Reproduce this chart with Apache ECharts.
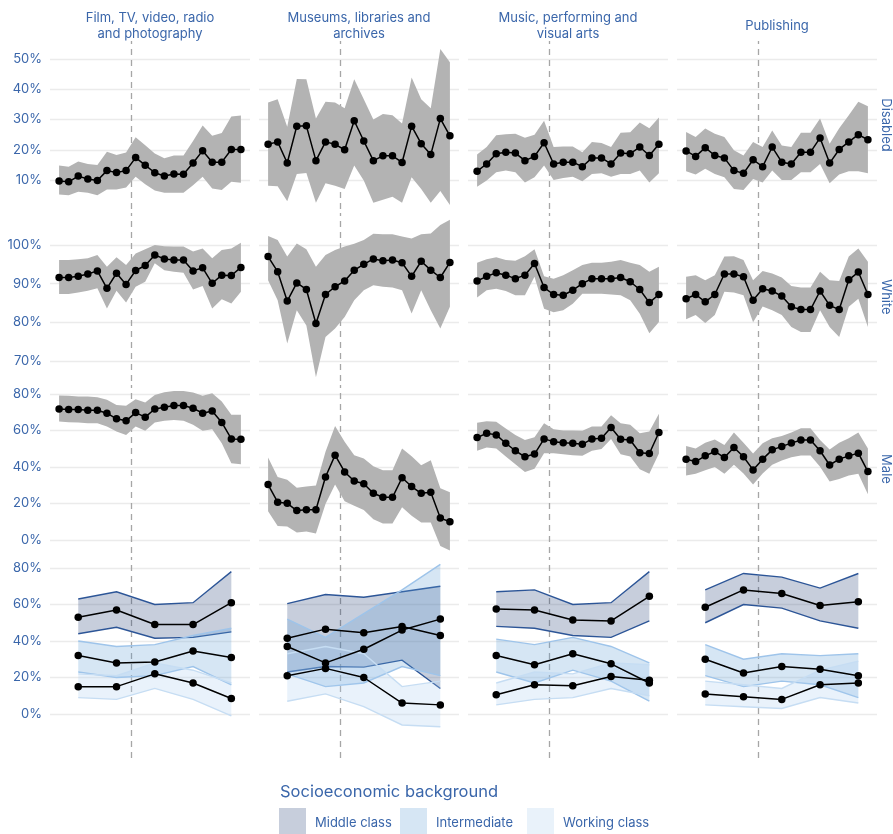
<!DOCTYPE html>
<html><head><meta charset="utf-8">
<script src="https://cdn.jsdelivr.net/npm/echarts@6/dist/echarts.min.js"></script>
<style>html,body{margin:0;padding:0;background:#fff}#c{width:893px;height:834px}</style>
</head><body><div id="c"></div><script>
// ---------- categories ----------
const sectors = ['Film, TV, video, radio\nand photography','Museums, libraries and\narchives','Music, performing and\nvisual arts','Publishing'];
const rowLabels = ['Disabled','White','Male'];
const classes = ['Middle class','Intermediate','Working class'];
const quarterX = [0,1,2,3,4,5,6,7,8,9,10,11,12,13,14,15,16,17,18,19];
const yearX = [2,6,10,14,18];
const breakX = 7.5;
const sesTicks = [0,20,40,60,80];

// ---------- Disabled (%) ----------
const disFilmVal = [9.7,9.4,11.3,10.3,9.8,13.1,12.5,13.1,17.4,14.9,12.4,11.3,12,11.9,15.6,19.7,15.9,15.9,20.1,20.1];
const disFilmHi  = [14.8,14.4,16.1,15.3,15,19.3,18.3,19.1,24.1,21.5,18.8,17.2,18.1,18.1,22.9,28,24.6,25.5,31,31.3];
const disFilmLo  = [5.2,5,6.1,5.8,5,6.9,6.9,7.5,11.1,8.6,6.5,5.8,5.8,5.8,8.3,11.1,7.2,6.7,9.4,9.1];
const disMusVal = [21.8,22.6,15.6,27.8,27.9,16.4,22.6,21.8,20,29.6,22.9,16.4,18,18,15.8,27.8,22,18.4,30.3,24.6];
const disMusHi  = [35.6,36.7,27.6,43.4,43.3,30.3,35.9,35.6,33.7,43.3,36.7,30,31.8,31.4,28.7,43.9,36.7,33.7,53.3,48.9];
const disMusLo  = [8.1,7.9,3,12,12.3,2.5,8.9,8.1,7,14.8,9.8,2.5,3.5,4.5,2.5,10.9,7,2.5,6.4,1.7];
const disMpvVal = [12.9,15.3,18.7,19.2,18.9,16.4,17.8,22.3,15.3,15.9,15.9,14.4,17.3,17.3,15.3,18.9,18.7,20.9,18.1,21.8];
const disMpvHi  = [18.4,20.9,24.8,25.1,25.3,24,25,29.6,20.9,21.1,21.1,19.2,22.6,22.2,20.9,25.6,25.8,29,27.1,30.7];
const disMpvLo  = [7.8,9.8,12.6,13.1,12.6,9.2,10.9,14.8,10,10.7,11.1,9.6,12,12.2,11.1,12,12,13.1,9.2,12.2];
const disPubVal = [19.6,17.8,20.7,18.1,17.3,13.1,12.2,16.7,14.4,20.9,15.9,15.3,19.2,19.2,23.9,15.6,20.1,22.6,25,23.3];
const disPubHi  = [25.9,24.2,27,25.3,24.2,19.8,18.1,22.6,20.9,26.4,21.4,20.9,25.6,25.6,30.3,22,27.1,31.4,35.9,34.4];
const disPubLo  = [12.9,11.8,13.7,12,10.9,7,6.7,10.3,9.2,13.1,10,10,12.6,12.6,15.3,8.9,11.8,12.9,12.9,12.2];

// ---------- White (%) ----------
const whiFilmVal = [91.6,91.6,91.9,92.5,93.3,88.8,92.7,89.8,93.4,94.7,97.4,96.4,96.1,96.1,93.3,94.1,90.1,92.2,92.1,94.2];
const whiFilmHi  = [96.1,96.1,96.3,96.6,97.4,94.4,96.8,94.8,97.8,98.9,100,99.7,99.6,99.6,98.3,99.1,96.6,98.7,99.1,100.6];
const whiFilmLo  = [87.3,87.3,87.7,88.2,88.8,83.6,88.2,85.1,89.2,90.5,95.3,93.5,93.1,92.8,88.5,89.4,83.6,86,84.9,87.9];
const whiMusVal = [97,93.1,85.5,90.2,88.5,79.7,87.2,89.2,90.7,93.5,95,96.4,95.9,96.1,95.4,91.9,95.8,93.5,91.6,95.5];
const whiMusHi  = [102.3,101.3,97,100.4,98.9,94.4,97.4,98.7,99.6,100.3,101.3,102.9,102.8,102.8,102.2,101.7,102.8,103,105.2,106.5];
const whiMusLo  = [90.9,85.7,74.5,83.1,79.2,65.8,76.2,78.4,81.4,85.7,88.3,89.6,89.2,89,88.3,82.3,88.3,83.1,78.4,84];
const whiMpvVal = [90.7,91.9,92.8,92.2,91.3,92.2,95.2,89,87.2,87,88.3,90,91.3,91.3,91.3,91.6,90.5,88.5,85.1,87.2];
const whiMpvHi  = [95.4,96.3,96.8,96.1,95.9,97.1,98.9,91.9,91.3,92.2,93.5,94.8,95.4,95.4,95.7,96.1,95.4,94.8,93.1,94.4];
const whiMpvLo  = [86.4,88.3,88.7,88.1,87,87,91.8,83.5,82.6,83.1,84.8,87.4,87.4,87.4,87.2,87,85.7,82.2,77.2,80.1];
const whiPubVal = [86.1,87.2,85.3,87.2,92.5,92.5,91.8,85.7,88.7,88.1,86.8,84,83.3,83.3,88.1,84.4,83.3,91,93,87.2];
const whiPubHi  = [91.8,92.2,90.9,92.2,97,97.1,96.1,90.9,93.3,92.6,91.6,89.4,89,89,93.1,90.9,90.7,97,99.1,95.7];
const whiPubLo  = [80.8,81.9,79.8,81.9,87.9,87.7,87,80,84.1,83.1,81.9,78.8,77.5,77.5,83.1,78.8,76.2,84,86.1,78.8];

// ---------- Male (%) ----------
const malFilmVal = [71.8,71.5,71.5,71.1,71.1,69.5,66.4,65.3,69.8,67.3,71.8,72.8,73.7,73.7,72.2,69.5,70.7,64.4,55.4,55.2];
const malFilmHi  = [79.2,79,78.6,78.6,78.2,76.8,74,73.5,77.1,75.3,79.5,81,81.7,81.7,80.8,79,80.4,75.9,68.6,68.6];
const malFilmLo  = [64.9,64.5,64.4,64,64,62.2,59.4,57.6,62.2,59.8,64.4,65.4,65.8,65.4,63.1,59.8,60.7,53,42,41.5];
const malMusVal = [30.4,20.7,20.1,16.1,16.6,16.6,34.5,46.5,37.3,32.3,30.8,25.6,23.4,23.4,34.1,29.3,25.6,26.2,12,10];
const malMusHi  = [45.2,34.5,33,28.6,29.3,29.9,48.3,62.5,53.9,46.5,44.6,40.4,38.2,38.2,50.2,45.9,41,43.7,28.4,26.2];
const malMusLo  = [15.7,7.7,7.4,4.1,4.6,3.5,19.7,30.4,21.2,18.8,16.4,11.4,9,9,17.9,13.3,9.6,9.6,-3.3,-5.7];
const malMpvVal = [56.1,58.5,57.6,53,48.9,45.6,47.1,55.4,53.9,53.3,53,52.4,55.4,55.7,61.6,55.2,54.8,47.8,47.4,58.9];
const malMpvHi  = [64.2,65.1,64.8,61.1,57.6,54.8,56.3,64,60.7,60,60,59.8,62.2,62.2,68.3,64,63.1,58.5,59.4,69.2];
const malMpvLo  = [48.9,50.7,50.2,45.8,41.5,37.3,39.1,47.6,47.6,47,46.5,46.1,48.9,49.8,55.4,47,45.8,38.7,36.3,47.4];
const malPubVal = [44.3,43,46.1,48.5,45.2,50.7,45.6,38.4,44.3,49.4,51.3,53.1,54.8,54.8,48.9,41.1,44.3,46.1,47.6,37.5];
const malPubHi  = [51.5,50.2,53.3,55.1,52,58.9,53.3,47.4,53,55.7,57,58.9,61.3,61.3,54.8,49.6,53.3,55.7,58.9,50.2];
const malPubLo  = [35.4,36.3,38.2,40,36.3,41.3,36.5,30.4,36.5,41.3,43.5,45.4,46.3,46.3,40.2,32.1,33.4,35.4,36.3,25.1];

// ---------- Socioeconomic background (%), yearly ----------
const sesFilmMidVal = [53,57,49,49,61];
const sesFilmMidHi  = [63,67,60,61,78];
const sesFilmMidLo  = [44,47.5,41.5,42,45];
const sesFilmIntVal = [32,28,28.5,34.5,31];
const sesFilmIntHi  = [40,37,38,43,47];
const sesFilmIntLo  = [23,20,21,26,16];
const sesFilmWrkVal = [15,15,22,17,8.5];
const sesFilmWrkHi  = [22,21,28,24,17];
const sesFilmWrkLo  = [9,8,14,8,-1];

const sesMusMidVal = [41.5,46.5,44.5,48,43];
const sesMusMidHi  = [60.5,65.5,64,67,70];
const sesMusMidLo  = [23,26,25.7,29.5,14];
const sesMusIntVal = [37,28,35.5,46,52];
const sesMusIntHi  = [52,42,55,68,82];
const sesMusIntLo  = [22,15,17,26,21];
const sesMusWrkVal = [21,25,20,6,5];
const sesMusWrkHi  = [33,37,33,15,18];
const sesMusWrkLo  = [7,11,4,-6,-7];

const sesMpvMidVal = [57.5,57,51.5,51,64.5];
const sesMpvMidHi  = [67,68,60,61,78];
const sesMpvMidLo  = [48,47,43,42,51];
const sesMpvIntVal = [32,27,33,27.5,17];
const sesMpvIntHi  = [41,38,42,37,28];
const sesMpvIntLo  = [23,17,24,18,7];
const sesMpvWrkVal = [10.5,16,15.5,20.5,18.5];
const sesMpvWrkHi  = [17,23,22,28,27];
const sesMpvWrkLo  = [5,8,9,14,10];

const sesPubMidVal = [58.5,68,66,59.5,61.5];
const sesPubMidHi  = [68,77,75,69,77];
const sesPubMidLo  = [50,60,58,51,47];
const sesPubIntVal = [30,22.5,26,24.5,21];
const sesPubIntHi  = [38,30,33,32,33];
const sesPubIntLo  = [21,15,18,16,9];
const sesPubWrkVal = [11,9.5,8,16,17];
const sesPubWrkHi  = [18,16,14,24,29];
const sesPubWrkLo  = [5,4,3,9,6];

// ---------- assemble ----------
const topRows = [
  [[disFilmVal,disFilmLo,disFilmHi],[disMusVal,disMusLo,disMusHi],[disMpvVal,disMpvLo,disMpvHi],[disPubVal,disPubLo,disPubHi]],
  [[whiFilmVal,whiFilmLo,whiFilmHi],[whiMusVal,whiMusLo,whiMusHi],[whiMpvVal,whiMpvLo,whiMpvHi],[whiPubVal,whiPubLo,whiPubHi]],
  [[malFilmVal,malFilmLo,malFilmHi],[malMusVal,malMusLo,malMusHi],[malMpvVal,malMpvLo,malMpvHi],[malPubVal,malPubLo,malPubHi]]
];
const sesRows = [
  [[sesFilmMidVal,sesFilmMidLo,sesFilmMidHi],[sesFilmIntVal,sesFilmIntLo,sesFilmIntHi],[sesFilmWrkVal,sesFilmWrkLo,sesFilmWrkHi]],
  [[sesMusMidVal,sesMusMidLo,sesMusMidHi],[sesMusIntVal,sesMusIntLo,sesMusIntHi],[sesMusWrkVal,sesMusWrkLo,sesMusWrkHi]],
  [[sesMpvMidVal,sesMpvMidLo,sesMpvMidHi],[sesMpvIntVal,sesMpvIntLo,sesMpvIntHi],[sesMpvWrkVal,sesMpvWrkLo,sesMpvWrkHi]],
  [[sesPubMidVal,sesPubMidLo,sesPubMidHi],[sesPubIntVal,sesPubIntLo,sesPubIntHi],[sesPubWrkVal,sesPubWrkLo,sesPubWrkHi]]
];

// ---------- layout / style ----------
const TXT = '#3a66aa';
const FONT = 'Inter, Roboto, sans-serif';
const colLeft = [50, 259, 468, 677];
const colW = 200;
const rowsLayout = [
  {top:41, bottom:209, step:10, ref:[[50,59],[10,180]]},
  {top:213, bottom:381, step:10, ref:[[100,245],[70,361]]},
  {top:385, bottom:553, step:20, ref:[[80,394],[0,540]]},
  {top:557, bottom:758, step:20, ref:[[80,568],[0,714]]}
];
const sesFill = ['rgba(31,58,115,0.25)','rgba(91,155,213,0.25)','rgba(168,203,238,0.25)'];
const sesEdge = ['#2c5597','#9ec4ea','#c6ddf3'];

const grids = [], xAxes = [], yAxes = [], series = [];

function bandSeries(gi, xs, lo, hi, fill, edge, z) {
  return {
    type: 'custom', xAxisIndex: gi, yAxisIndex: gi, z, silent: true, clip: true,
    data: xs.map((x, i) => [x, lo[i], hi[i]]),
    encode: {x: 0, y: [1, 2]},
    renderItem: (params, api) => {
      if (params.dataIndexInside !== 0) return;
      const n = params.dataInsideLength;
      const up = [], dn = [];
      for (let i = 0; i < n; i++) {
        up.push(api.coord([api.value(0, i), api.value(2, i)]));
        dn.push(api.coord([api.value(0, i), api.value(1, i)]));
      }
      const children = [{type: 'polygon', shape: {points: up.concat(dn.slice().reverse())}, style: {fill: fill}}];
      if (edge) {
        children.push({type: 'polyline', shape: {points: up}, style: {stroke: edge, lineWidth: 1.4, fill: null}});
        children.push({type: 'polyline', shape: {points: dn}, style: {stroke: edge, lineWidth: 1.4, fill: null}});
      }
      return {type: 'group', children};
    }
  };
}
function pointSeries(gi, xs, v, z) {
  return {type: 'line', xAxisIndex: gi, yAxisIndex: gi, z, silent: true,
    data: xs.map((x, i) => [x, v[i]]), symbol: 'circle', symbolSize: 7.5,
    itemStyle: {color: '#000'}, lineStyle: {color: '#000', width: 1.5}};
}

rowsLayout.forEach((R, r) => {
  const [[vh, ph], [vl, pl]] = R.ref;
  const ppu = (pl - ph) / (vh - vl);
  const yMax = vh + (ph - R.top) / ppu;
  const yMin = vl - (R.bottom - pl) / ppu;
  const isSes = r === 3;
  for (let c = 0; c < 4; c++) {
    const gi = r * 4 + c;
    grids.push({left: colLeft[c], top: R.top, width: colW, height: R.bottom - R.top});
    xAxes.push({gridIndex: gi, type: 'value', min: -0.95, max: 19.95,
      axisLine: {show: false}, axisTick: {show: false}, axisLabel: {show: false}, splitLine: {show: false}});
    yAxes.push({gridIndex: gi, type: 'value', min: yMin, max: yMax,
      minInterval: R.step, maxInterval: R.step, splitNumber: 5,
      axisLine: {show: false}, axisTick: {show: false},
      splitLine: {show: !isSes, showMinLine: false, showMaxLine: false, lineStyle: {color: '#ebebeb', width: 1.3}},
      axisLabel: {show: c === 0, color: TXT, fontSize: 13, fontFamily: FONT, margin: 8,
        formatter: v => (v >= 0 && Math.abs(v / R.step - Math.round(v / R.step)) < 1e-6) ? Math.round(v) + '%' : ''}});
    // reference lines (behind the data): dashed vertical break, plus gridlines for the bottom row
    const mlData = [];
    if (isSes) sesTicks.forEach(t => mlData.push({yAxis: t, lineStyle: {color: '#ebebeb', type: 'solid', width: 1.3}}));
    mlData.push({xAxis: breakX, lineStyle: {color: '#a6a6a6', type: [6, 5], width: 1.3}});
    series.push({type: 'line', xAxisIndex: gi, yAxisIndex: gi, data: [], z: 1, silent: true,
      markLine: {z: 1, silent: true, symbol: 'none', label: {show: false}, data: mlData}});
    if (!isSes) {
      const [v, lo, hi] = topRows[r][c];
      series.push(bandSeries(gi, quarterX, lo, hi, '#b3b3b3', null, 2));
      series.push(pointSeries(gi, quarterX, v, 5));
    } else {
      sesRows[c].forEach((d, k) => series.push(bandSeries(gi, yearX, d[1], d[2], sesFill[k], sesEdge[k], 2 + k)));
      sesRows[c].forEach(d => series.push(pointSeries(gi, yearX, d[0], 6)));
    }
  }
});

const graphic = [];
sectors.forEach((s, c) => graphic.push({type: 'text', x: colLeft[c] + colW / 2, y: 26,
  style: {text: s, fill: TXT, fontSize: 13, fontFamily: FONT, align: 'center', verticalAlign: 'middle', lineHeight: 16}}));
rowLabels.forEach((s, r) => graphic.push({type: 'text', x: 886, y: (rowsLayout[r].top + rowsLayout[r].bottom) / 2,
  rotation: -Math.PI / 2,
  style: {text: s, fill: TXT, fontSize: 13, fontFamily: FONT, align: 'center', verticalAlign: 'middle'}}));
graphic.push({type: 'text', x: 280, y: 792, style: {text: 'Socioeconomic background', fill: TXT, fontSize: 16.5, fontFamily: FONT, align: 'left', verticalAlign: 'middle'}});
const legendKeyX = [279, 400, 527];
const legendKeyFill = ['#c7cedc', '#d6e6f4', '#e9f2fa'];
classes.forEach((s, k) => {
  graphic.push({type: 'rect', shape: {x: legendKeyX[k], y: 808, width: 27, height: 27}, style: {fill: legendKeyFill[k]}});
  graphic.push({type: 'text', x: legendKeyX[k] + 36, y: 823, style: {text: s, fill: TXT, fontSize: 13, fontFamily: FONT, align: 'left', verticalAlign: 'middle'}});
});

const chart = echarts.init(document.getElementById('c'), null, {renderer: 'canvas'});
chart.setOption({animation: false, backgroundColor: '#fff', grid: grids, xAxis: xAxes, yAxis: yAxes, series, graphic});
</script></body></html>
